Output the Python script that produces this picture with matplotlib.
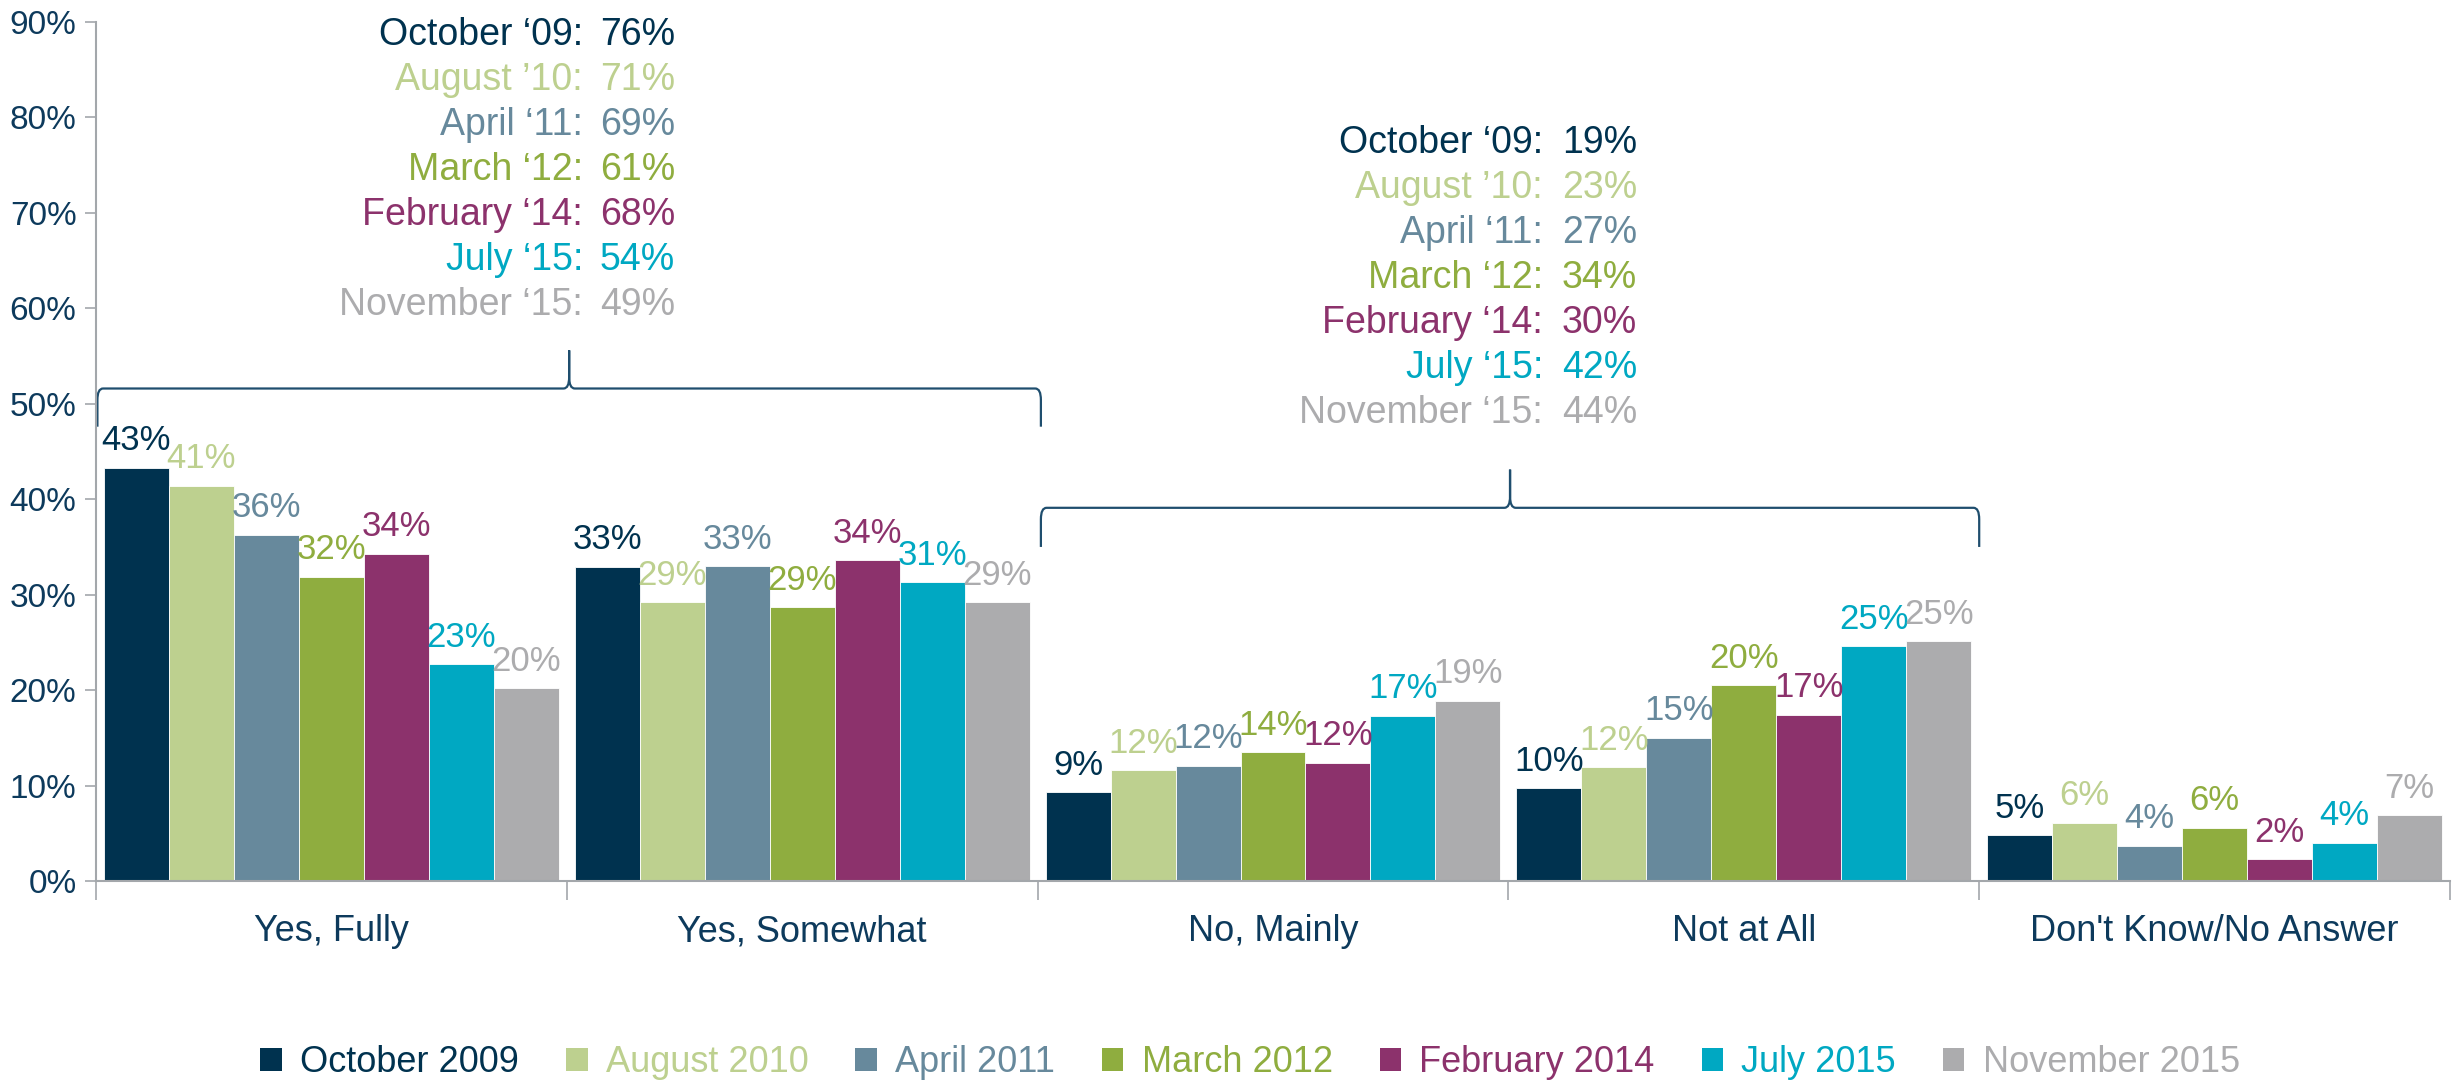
import matplotlib.pyplot as plt
import numpy as np
from matplotlib.path import Path
from matplotlib.patches import PathPatch, Patch

plt.rcParams['font.family'] = ['Liberation Sans', 'DejaVu Sans']

categories = ['Yes, Fully', 'Yes, Somewhat', 'No, Mainly', 'Not at All', "Don't Know/No Answer"]
series_names = ['October 2009', 'August 2010', 'April 2011', 'March 2012',
                'February 2014', 'July 2015', 'November 2015']
oct09 = [43.3, 32.9, 9.3, 9.7, 4.8]
aug10 = [41.4, 29.2, 11.6, 11.9, 6.1]
apr11 = [36.3, 33.0, 12.1, 15.0, 3.7]
mar12 = [31.9, 28.7, 13.5, 20.5, 5.6]
feb14 = [34.3, 33.6, 12.4, 17.4, 2.3]
jul15 = [22.7, 31.3, 17.3, 24.6, 4.0]
nov15 = [20.2, 29.2, 18.9, 25.1, 6.9]
values = [oct09, aug10, apr11, mar12, feb14, jul15, nov15]

colors = ['#00324f', '#bdd08f', '#67899c', '#8fad3f', '#8c326c', '#00a8c2', '#acacae']

# summary boxes (Yes total / No total)
summary_names = ['October \u201809:', 'August \u201910:', 'April \u201811:', 'March \u201812:',
                 'February \u201814:', 'July \u201815:', 'November \u201815:']
yes_total = [76, 71, 69, 61, 68, 54, 49]
no_total = [19, 23, 27, 34, 30, 42, 44]

navy = '#0d3a5c'
axis_grey = '#a3a7ab'

W, H = 2463, 1085
fig = plt.figure(figsize=(W / 100, H / 100), dpi=100)
ax = fig.add_axes([96 / W, 1 - 881 / H, (2450 - 96) / W, (881 - 22) / H])

n = len(series_names)
bw = 0.138
x = np.arange(len(categories))
for i in range(n):
    pos = x + (i - (n - 1) / 2) * bw
    ax.bar(pos, values[i], width=bw, color=colors[i], edgecolor='white', linewidth=0.6)
    for xp, v in zip(pos, values[i]):
        ax.text(xp, v + 1.1, f'{v:.0f}%', ha='center', va='bottom',
                fontsize=25, color=colors[i])

ax.set_xlim(-0.5, len(categories) - 0.5)
ax.set_ylim(0, 90)
ax.set_yticks(np.arange(0, 91, 10))
ax.set_yticklabels([f'{t}%' for t in range(0, 91, 10)], fontsize=24, color=navy)
ax.tick_params(axis='y', direction='out', length=8, width=1.2, color=axis_grey, pad=6)

ax.set_xticks(np.arange(-0.5, len(categories)), minor=False)
ax.set_xticklabels([])
ax.tick_params(axis='x', which='major', direction='out', length=14, width=1.2, color=axis_grey)
ax.set_xticks(x, minor=True)
ax.set_xticklabels(categories, minor=True, fontsize=26, color=navy)
ax.tick_params(axis='x', which='minor', length=0, pad=24)

for s in ['top', 'right']:
    ax.spines[s].set_visible(False)
for s in ['left', 'bottom']:
    ax.spines[s].set_color(axis_grey)
    ax.spines[s].set_linewidth(1.5)


def brace(ax, x0, x1, ybot, yline, ytip, color='#1f4e6e'):
    xm = (x0 + x1) / 2
    rx, ry = 0.012, 1.2
    verts = [(x0, ybot), (x0, yline - ry), (x0, yline), (x0 + rx, yline),
             (xm - rx, yline), (xm, yline), (xm, yline + ry),
             (xm, ytip), (xm, ytip),
             (xm, yline + ry), (xm, yline), (xm + rx, yline),
             (x1 - rx, yline), (x1, yline), (x1, yline - ry), (x1, ybot)]
    codes = [Path.MOVETO, Path.LINETO, Path.CURVE3, Path.CURVE3,
             Path.LINETO, Path.CURVE3, Path.CURVE3,
             Path.LINETO, Path.MOVETO,
             Path.LINETO, Path.CURVE3, Path.CURVE3,
             Path.LINETO, Path.CURVE3, Path.CURVE3, Path.LINETO]
    ax.add_patch(PathPatch(Path(verts, codes), facecolor='none', edgecolor=color,
                           lw=1.6, clip_on=False))


brace(ax, -0.497, 1.507, 47.6, 51.6, 55.6)
brace(ax, 1.507, 3.5, 35.0, 39.1, 43.1)


def summary(name_x, val_x, y0, totals):
    for i in range(n):
        yy = 1 - (y0 + 45 * i) / H
        fig.text(name_x / W, yy, summary_names[i], ha='right', va='center',
                 fontsize=27, color=colors[i])
        fig.text(val_x / W, yy, f'{totals[i]}%', ha='right', va='center',
                 fontsize=27, color=colors[i])


summary(583, 675, 35, yes_total)
summary(1543, 1637, 143, no_total)

handles = [Patch(facecolor=c, edgecolor='none') for c in colors]
fig.legend(handles, series_names, loc='center', ncol=n,
           bbox_to_anchor=(1250 / W, 1 - 1063 / H), frameon=False,
           fontsize=26, labelcolor=colors, handlelength=0.6, handleheight=0.6,
           handletextpad=0.5, columnspacing=1.3)

fig.savefig('out.png', dpi=100)
